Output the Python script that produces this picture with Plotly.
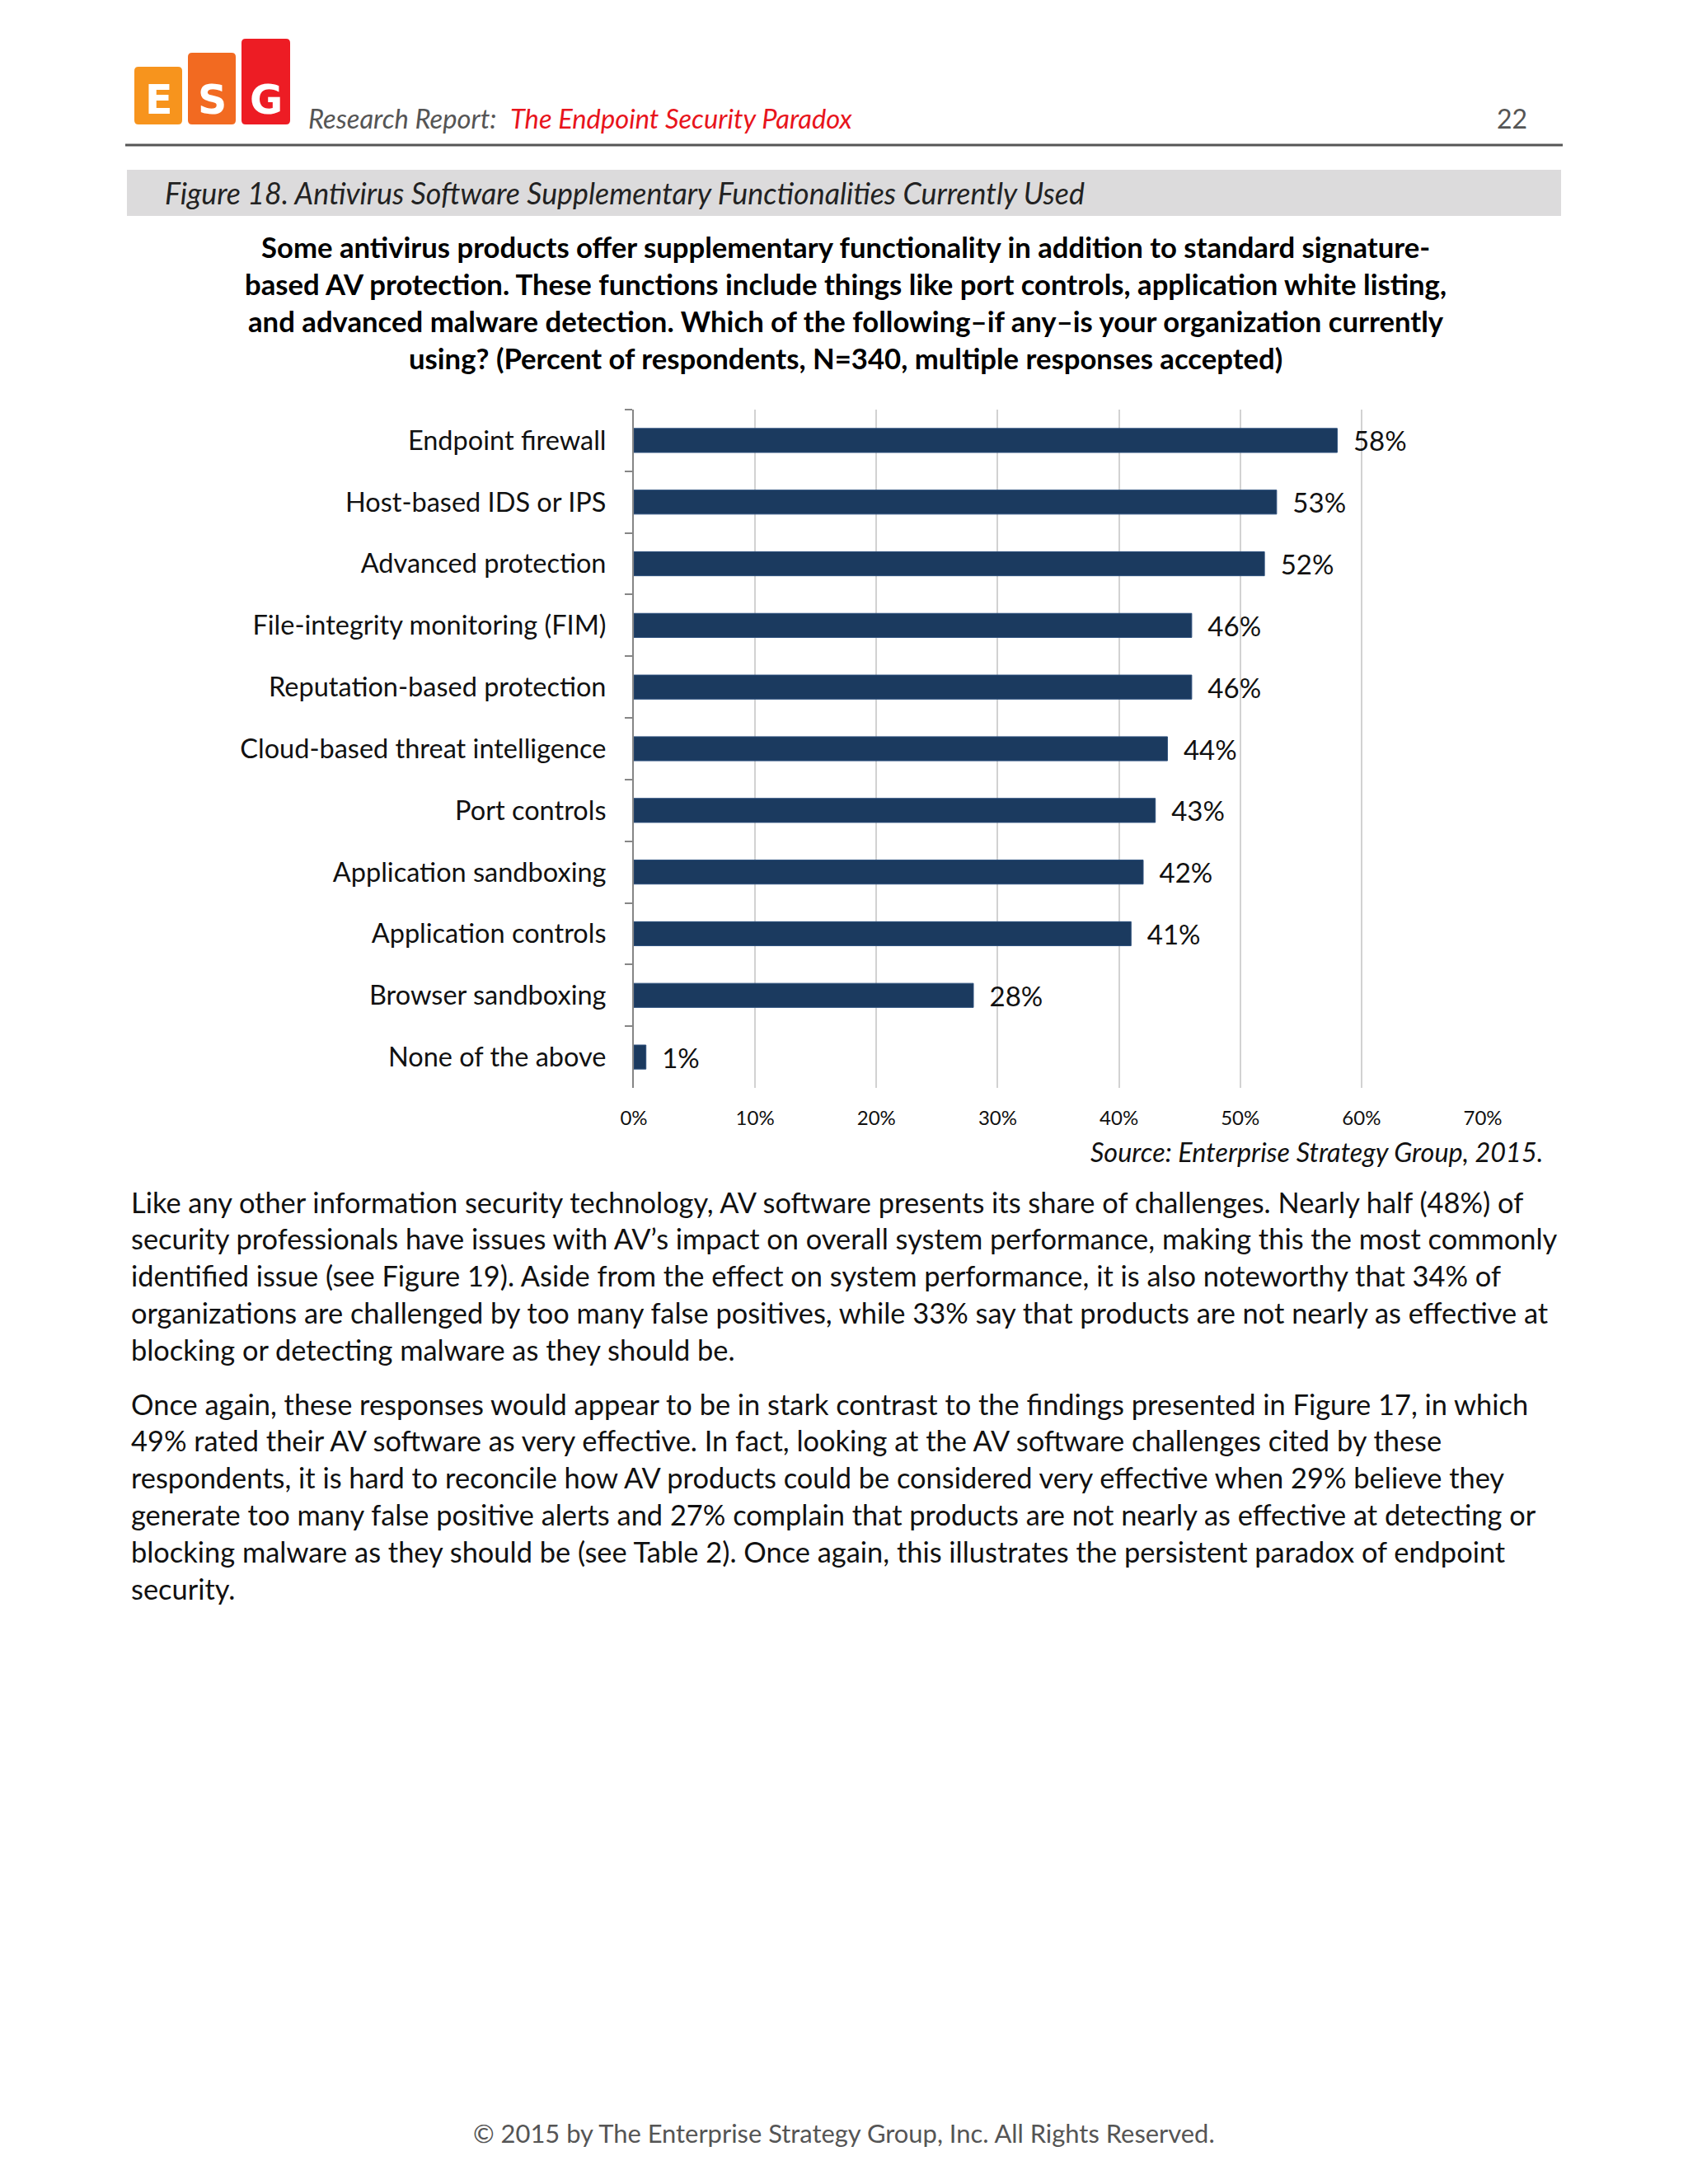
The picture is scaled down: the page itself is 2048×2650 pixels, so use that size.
import plotly.graph_objects as go

W, H = 2048, 2650

categories = ["Endpoint firewall", "Host-based IDS or IPS", "Advanced protection",
              "File-integrity monitoring (FIM)", "Reputation-based protection",
              "Cloud-based threat intelligence", "Port controls", "Application sandboxing",
              "Application controls", "Browser sandboxing", "None of the above"]
values = [58, 53, 52, 46, 46, 44, 43, 42, 41, 28, 1]
tick_vals = [0, 10, 20, 30, 40, 50, 60, 70]
tick_text = ["0%", "10%", "20%", "30%", "40%", "50%", "60%", "70%"]

question_lines = [
    "Some antivirus products offer supplementary functionality in addition to standard signature-",
    "based AV protection. These functions include things like port controls, application white listing,",
    "and advanced malware detection. Which of the following\u2013if any\u2013is your organization currently",
    "using? (Percent of respondents, N=340, multiple responses accepted)",
]
para1 = [
    "Like any other information security technology, AV software presents its share of challenges. Nearly half (48%) of",
    "security professionals have issues with AV\u2019s impact on overall system performance, making this the most commonly",
    "identified issue (see Figure 19). Aside from the effect on system performance, it is also noteworthy that 34% of",
    "organizations are challenged by too many false positives, while 33% say that products are not nearly as effective at",
    "blocking or detecting malware as they should be.",
]
para2 = [
    "Once again, these responses would appear to be in stark contrast to the findings presented in Figure 17, in which",
    "49% rated their AV software as very effective. In fact, looking at the AV software challenges cited by these",
    "respondents, it is hard to reconcile how AV products could be considered very effective when 29% believe they",
    "generate too many false positive alerts and 27% complain that products are not nearly as effective at detecting or",
    "blocking malware as they should be (see Table 2). Once again, this illustrates the persistent paradox of endpoint",
    "security.",
]

FONT = "Lato, Carlito, Calibri, 'Open Sans', sans-serif"
BAR = "#1b3a5f"


def px(x):
    return x / W


def py(y):
    return 1 - y / H


fig = go.Figure()
fig.add_trace(go.Bar(
    x=values, y=categories, orientation="h",
    marker=dict(color=BAR, line=dict(color="#2c4f7c", width=1)),
    width=0.39,
    text=[f"{v}%" for v in values], texttemplate="\u2002%{text}", textposition="outside",
    constraintext="none",
    textfont=dict(family=FONT, size=33, color="#111111"),
    cliponaxis=False, hoverinfo="skip",
))

x0, x1 = 769, 1799
y0, y1 = 497, 1320
fig.update_layout(
    width=W, height=H, margin=dict(l=0, r=0, t=0, b=0, pad=0, autoexpand=False),
    paper_bgcolor="white", plot_bgcolor="white", showlegend=False,
    font=dict(family=FONT),
    xaxis=dict(domain=[px(x0), px(x1)], range=[0, 70], tickvals=tick_vals, ticktext=tick_text,
               showgrid=True, gridcolor="#d2d2d2", gridwidth=1.5, zeroline=False,
               showline=False, ticks="", tickfont=dict(family=FONT, size=24, color="#111111"),
               ticklabelstandoff=20, fixedrange=True, automargin=False),
    yaxis=dict(domain=[py(y1), py(y0)], autorange="reversed", type="category",
               showline=True, linecolor="#868686", linewidth=2, ticks="outside",
               tickson="boundaries", ticklen=9, tickcolor="#868686", tickwidth=2,
               showgrid=False, tickfont=dict(family=FONT, size=32.5, color="#111111"),
               ticklabelstandoff=25, fixedrange=True, automargin=False),
    bargap=0.61,
)

anns = []


def text(x, y, s, size, color="#111111", xanchor="left", italic=False, bold=False, family=FONT):
    if bold:
        s = f"<b>{s}</b>"
    if italic:
        s = f"<i>{s}</i>"
    anns.append(dict(x=px(x), y=py(y), xref="paper", yref="paper", text=s, showarrow=False,
                     xanchor=xanchor, yanchor="middle",
                     font=dict(family=family, size=size, color=color)))


def rounded_rect(xa, xb, ya, yb, r):
    pts = [
        f"M{px(xa + r)},{py(ya)}",
        f"L{px(xb - r)},{py(ya)}",
        f"Q{px(xb)},{py(ya)} {px(xb)},{py(ya + r)}",
        f"L{px(xb)},{py(yb - r)}",
        f"Q{px(xb)},{py(yb)} {px(xb - r)},{py(yb)}",
        f"L{px(xa + r)},{py(yb)}",
        f"Q{px(xa)},{py(yb)} {px(xa)},{py(yb - r)}",
        f"L{px(xa)},{py(ya + r)}",
        f"Q{px(xa)},{py(ya)} {px(xa + r)},{py(ya)} Z",
    ]
    return " ".join(pts)


# Header logo
shapes = []
logo = [(163, 221, 81, "#f7941d", "E"), (228, 286, 64, "#f26a21", "S"), (293, 352, 47, "#ed1c24", "G")]
for (lx0, lx1, ly0, col, letter) in logo:
    shapes.append(dict(type="path", xref="paper", yref="paper", path=rounded_rect(lx0, lx1, ly0, 151, 5),
                       fillcolor=col, line=dict(width=0), layer="below"))
    text((lx0 + lx1) / 2, 121, letter, 49, color="white", xanchor="center", bold=True,
         family="'DejaVu Sans', sans-serif")

text(372, 144, "Research Report:", 32.7, color="#555555", italic=True)
text(617, 144, "The Endpoint Security Paradox", 32.7, color="#e8141c", italic=True)
text(1834, 144, "22", 32, color="#555555", xanchor="center")
shapes.append(dict(type="line", xref="paper", yref="paper", x0=px(152), x1=px(1896),
                   y0=py(176), y1=py(176), line=dict(color="#555555", width=3)))

# Figure caption band
shapes.append(dict(type="rect", xref="paper", yref="paper", x0=px(154), x1=px(1894),
                   y0=py(262), y1=py(206), fillcolor="#dcdbdc", line=dict(width=0), layer="below"))
text(198, 234, "Figure 18. Antivirus Software Supplementary Functionalities Currently Used", 35.8,
     color="#222222", italic=True)

for i, line in enumerate(question_lines):
    text(1026, 299 + i * 45, line, 34.7, xanchor="center", bold=True, color="#000000")

text(1874, 1397, "Source: Enterprise Strategy Group, 2015.", 32.4, xanchor="right", italic=True)

for i, line in enumerate(para1):
    text(157, 1458 + i * 44.8, line, 34.4)
for i, line in enumerate(para2):
    text(157, 1703 + i * 44.8, line, 34.4)

text(1024, 2588, "\u00a9 2015 by The Enterprise Strategy Group, Inc. All Rights Reserved.", 30.9,
     color="#555555", xanchor="center")

fig.update_layout(annotations=anns, shapes=shapes)

post = ("document.body.style.margin='0';document.body.style.overflow='hidden';"
        "document.documentElement.style.overflow='hidden';")
fig.write_html("out.html", config={"responsive": False, "displayModeBar": False}, post_script=post)
